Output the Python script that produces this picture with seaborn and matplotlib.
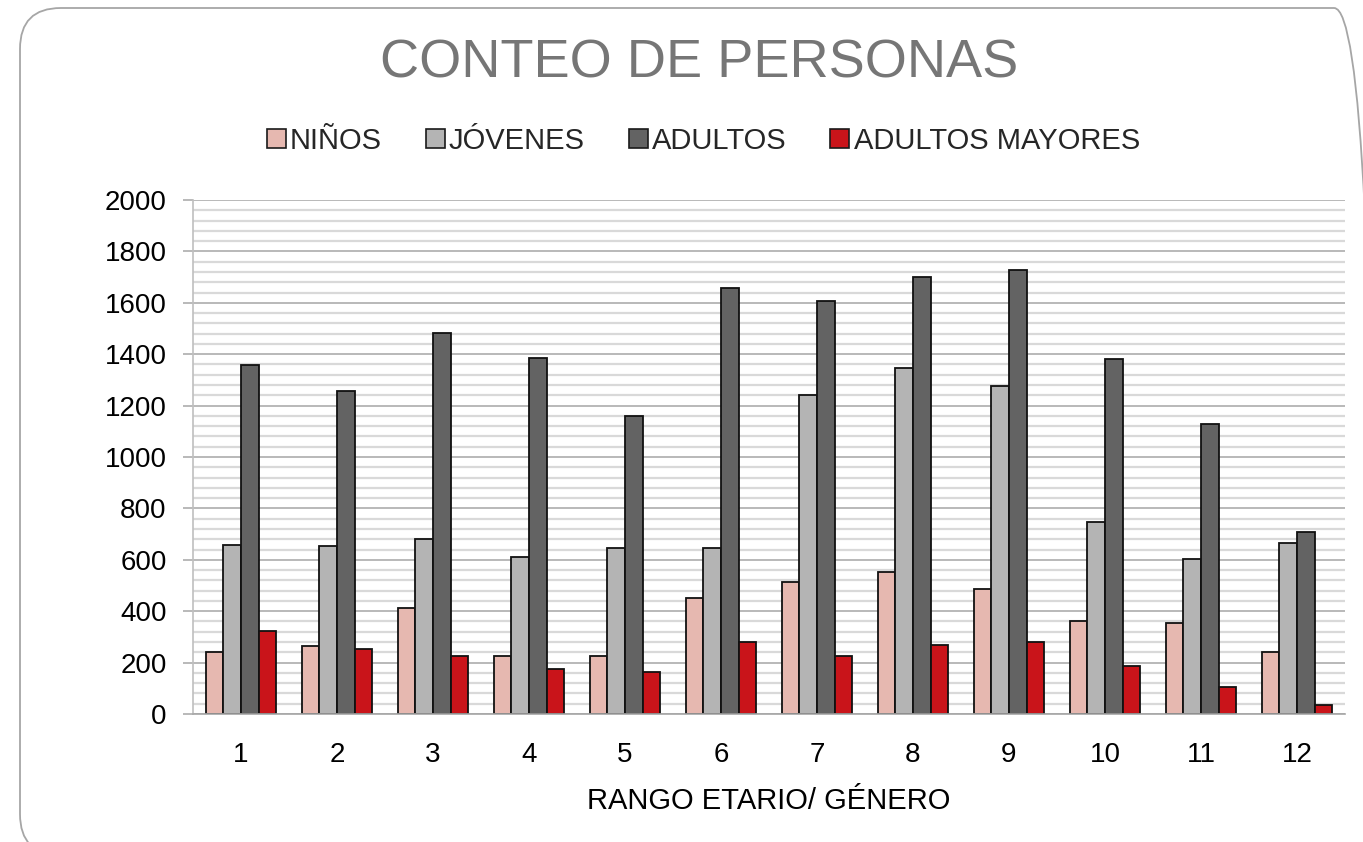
import matplotlib
matplotlib.use("Agg")
import matplotlib.pyplot as plt
from matplotlib.patches import FancyBboxPatch
from matplotlib.ticker import MultipleLocator
import numpy as np
import pandas as pd
import seaborn as sns

# Data
groups = ["1", "2", "3", "4", "5", "6", "7", "8", "9", "10", "11", "12"]
series_names = ["NIÑOS", "JÓVENES", "ADULTOS", "ADULTOS MAYORES"]
ninos = [242, 264, 412, 226, 226, 450, 513, 552, 485, 363, 354, 241]
jovenes = [657, 652, 682, 609, 647, 644, 1243, 1345, 1275, 749, 605, 667]
adultos = [1357, 1258, 1484, 1386, 1158, 1656, 1608, 1699, 1729, 1380, 1127, 709]
mayores = [323, 251, 227, 177, 163, 279, 226, 267, 279, 187, 106, 35]
colors = ["#E6B8B0", "#B4B4B4", "#636363", "#C9141A"]

df = pd.DataFrame({
    "grupo": groups * 4,
    "serie": np.repeat(series_names, len(groups)),
    "valor": ninos + jovenes + adultos + mayores,
})

sns.set_theme(style="white")
plt.rcParams["font.family"] = ["Liberation Sans", "DejaVu Sans"]

fig = plt.figure(figsize=(13.63, 8.42), dpi=100)
fig.patch.set_facecolor("white")

# Rounded frame around the chart area
frame = FancyBboxPatch((20 / 1363, 1 - 855 / 842), (1375 - 20) / 1363, (855 - 8) / 842,
                       boxstyle="round,pad=0,rounding_size=0.03",
                       transform=fig.transFigure, facecolor="none",
                       edgecolor="#A6A6A6", linewidth=1.3, mutation_aspect=1363 / 842)
fig.patches.append(frame)

ax = fig.add_axes([193 / 1363, 128 / 842, 1152 / 1363, 514 / 842])

sns.barplot(data=df, x="grupo", y="valor", hue="serie", order=groups,
            hue_order=series_names, palette=colors, saturation=1, width=0.73, gap=0,
            edgecolor="#111111", linewidth=1.3, legend=False, ax=ax)

ax.set_ylim(0, 2000)
ax.set_xlim(-0.5, 11.5)
ax.yaxis.set_major_locator(MultipleLocator(200))
ax.yaxis.set_minor_locator(MultipleLocator(40))
ax.grid(which="minor", axis="y", color="#D9D9D9", linewidth=1.6)
ax.grid(which="major", axis="y", color="#A6A6A6", linewidth=1.1)
ax.set_axisbelow(True)

for side in ["top", "right"]:
    ax.spines[side].set_visible(False)
ax.spines["left"].set_color("#BFBFBF")
ax.spines["left"].set_linewidth(1.2)
ax.spines["bottom"].set_color("#A6A6A6")
ax.spines["bottom"].set_linewidth(1.2)

ax.tick_params(axis="y", which="major", length=7, color="#A6A6A6", width=1.1,
               labelsize=20, pad=12, labelcolor="#000000", left=True)
ax.tick_params(axis="y", which="minor", length=0)
ax.tick_params(axis="x", length=0, labelsize=20, pad=20, labelcolor="#000000")

ax.set_ylabel("")
ax.set_xlabel("RANGO ETARIO/ GÉNERO", fontsize=21, color="#000000", labelpad=14)

fig.text(0.513, 0.924, "CONTEO DE PERSONAS", ha="center", va="center",
         fontsize=39, color="#767676")

handles = [plt.Rectangle((0, 0), 1, 1, facecolor=c, edgecolor="#1a1a1a", linewidth=1.2)
           for c in colors]
fig.legend(handles, series_names, loc="center", bbox_to_anchor=(0.516, 0.833),
           ncol=4, frameon=False, fontsize=21, handlelength=0.65, handleheight=0.65,
           handletextpad=0.15, columnspacing=1.5)

fig.savefig("out.png", dpi=100)
